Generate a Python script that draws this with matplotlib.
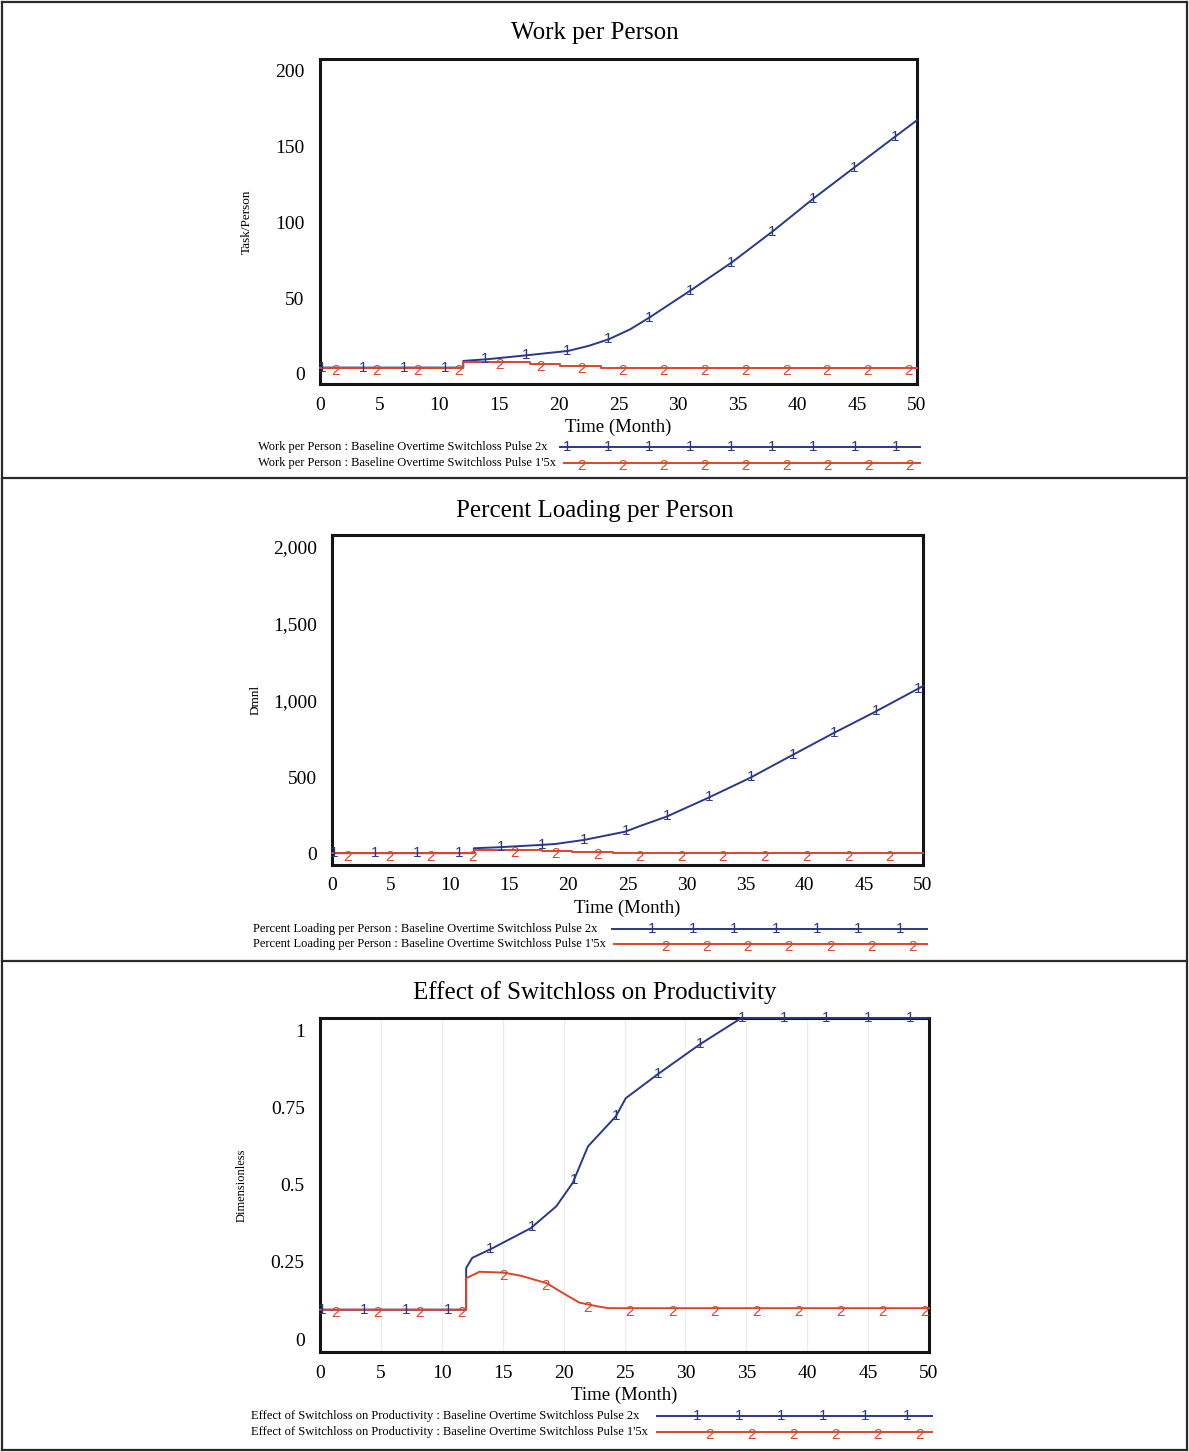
import matplotlib
matplotlib.use("Agg")
import matplotlib.pyplot as plt
import numpy as np
from matplotlib.lines import Line2D

# ---------------- data ----------------
# Work per Person (Task/Person)
t_work_2x = [0, 12, 12, 14, 17.3, 20.8, 22.5, 24.2, 26, 27.6, 31, 34.5, 38, 41.3, 44.8, 48.2, 50]
work_2x = [4.2, 4.2, 8.6, 9.7, 12.3, 15.2, 18.5, 22.9, 29.5, 37.2, 54.8, 73.5, 94.4, 115.3, 136.2, 156.4, 167]
t_work_15x = [0, 12, 12, 17.6, 17.6, 20.1, 20.1, 23.5, 23.5, 50]
work_15x = [4.2, 4.2, 7.9, 7.9, 6.8, 6.8, 5.3, 5.3, 4.2, 4.2]

# Percent Loading per Person (Dmnl)
t_load_2x = [0, 12, 12, 14.2, 17.7, 18.9, 21.3, 24.8, 26.1, 28.3, 31.75, 35.3, 38.8, 42.3, 45.8, 49.5, 50]
load_2x = [5, 5, 37, 44, 59, 65, 91, 145, 183, 243, 363, 493, 638, 782, 920, 1073, 1094]
t_load_15x = [0, 12, 12, 17.8, 17.8, 20.3, 20.3, 23.8, 23.8, 50]
load_15x = [5, 5, 26, 26, 20, 20, 13, 13, 5, 5]

# Effect of Switchloss on Productivity (Dimensionless)
t_eff_2x = [0, 12, 12, 12.5, 14, 17.3, 19.4, 20.75, 22, 24.3, 25.1, 27.7, 31.2, 34.6, 50]
eff_2x = [0.095, 0.095, 0.23, 0.263, 0.291, 0.359, 0.43, 0.506, 0.624, 0.722, 0.78, 0.857, 0.955, 1.04, 1.04]
t_eff_15x = [0, 12, 12, 13.1, 15.1, 16.5, 18.6, 20.2, 21.3, 22.9, 23.7, 50]
eff_15x = [0.095, 0.095, 0.197, 0.218, 0.215, 0.205, 0.181, 0.143, 0.118, 0.105, 0.1, 0.1]

x_ticks = [0, 5, 10, 15, 20, 25, 30, 35, 40, 45, 50]
work_ticks = [0, 50, 100, 150, 200]
work_tick_labels = ["0", "50", "100", "150", "200"]
load_ticks = [0, 500, 1000, 1500, 2000]
load_tick_labels = ["0", "500", "1,000", "1,500", "2,000"]
eff_ticks = [0, 0.25, 0.5, 0.75, 1]
eff_tick_labels = ["0", "0.25", "0.5", "0.75", "1"]

titles = ["Work per Person", "Percent Loading per Person", "Effect of Switchloss on Productivity"]
y_units = ["Task/Person", "Dmnl", "Dimensionless"]
run_2x = "Baseline Overtime Switchloss Pulse 2x"
run_15x = "Baseline Overtime Switchloss Pulse 1'5x"

# ---------------- styling ----------------
W, H = 1189, 1452
BLUE = "#2a3889"
RED = "#d9462a"
SERIF = "Liberation Serif"
SANS = "Liberation Sans"
DIGIT_SIZE = 11

fig = plt.figure(figsize=(W / 100, H / 100), dpi=100)
renderer = fig.canvas.get_renderer()


def rect(x0, y0, x1, y1):
    return [x0 / W, 1 - y1 / H, (x1 - x0) / W, (y1 - y0) / H]


def fx(x):
    return x / W


def fy(y):
    return 1 - y / H


def digit_marks(ax, t, v, start, step, ch, color, dy):
    ts = np.arange(start, 50.0001, step)
    vs = np.interp(ts, t, v)
    for a, b in zip(ts, vs):
        ax.annotate(ch, (a, b), xytext=(0, dy), textcoords="offset points",
                    ha="center", va="center", color=color, fontsize=DIGIT_SIZE,
                    family=SANS, annotation_clip=False, zorder=5)


panels = [
    dict(data=(t_work_2x, work_2x, t_work_15x, work_15x), ticks=work_ticks,
         labels=work_tick_labels, ylim=(-6.6, 207.3), box=(320, 59, 917, 384),
         title_y=33, ylab_x=247, ylab_size=9.5, step=3.43, leg_y=(447, 463),
         leg_text_x=258, leg_x=(560, 920), leg_start=(567, 581), leg_step=41.1,
         grid=False),
    dict(data=(t_load_2x, load_2x, t_load_15x, load_15x), ticks=load_ticks,
         labels=load_tick_labels, ylim=(-72, 2078), box=(332, 535, 923, 865),
         title_y=511, ylab_x=256, ylab_size=9.5, step=3.53, leg_y=(929, 944),
         leg_text_x=253, leg_x=(612, 927), leg_start=(652, 665), leg_step=41.3,
         grid=False),
    dict(data=(t_eff_2x, eff_2x, t_eff_15x, eff_15x), ticks=eff_ticks,
         labels=eff_tick_labels, ylim=(-0.042, 1.04), box=(320, 1018, 929, 1352),
         title_y=993, ylab_x=242, ylab_size=9, step=3.45, leg_y=(1416, 1432),
         leg_text_x=251, leg_x=(657, 932), leg_start=(697, 710), leg_step=42.0,
         grid=True),
]

for i, p in enumerate(panels):
    x0, y0, x1, y1 = p["box"]
    ax = fig.add_axes(rect(x0, y0, x1, y1))
    t_a, v_a, t_b, v_b = p["data"]
    ax.plot(t_a, v_a, color=BLUE, lw=1.4, zorder=3, clip_on=False)
    ax.plot(t_b, v_b, color=RED, lw=1.4, zorder=3, clip_on=False)
    digit_marks(ax, t_a, v_a, 0.15, p["step"], "1", BLUE, 0)
    digit_marks(ax, t_b, v_b, 1.3, p["step"], "2", RED, -2.5)

    ax.set_xlim(0, 50)
    ax.set_ylim(*p["ylim"])
    ax.set_xticks(x_ticks)
    ax.set_xticklabels([str(v) for v in x_ticks], family=SERIF, fontsize=14)
    ax.set_yticks(p["ticks"])
    ax.set_yticklabels(p["labels"], family=SERIF, fontsize=14)
    ax.tick_params(length=0, pad=9)
    ax.tick_params(axis="y", pad=11)
    for s in ax.spines.values():
        s.set_linewidth(2.2)
        s.set_color("#151515")
        s.set_zorder(2.5)
    if p["grid"]:
        ax.grid(axis="x", color="#ededed", lw=0.9)
        ax.set_axisbelow(True)
    ax.set_xlabel("Time (Month)", family=SERIF, fontsize=13.5, labelpad=4)

    # title and unit label
    fig.text(0.5, fy(p["title_y"]), titles[i], ha="center", va="center",
             family=SERIF, fontsize=18)
    fig.text(fx(p["ylab_x"]), fy((y0 + y1) / 2), y_units[i], rotation=90,
             ha="center", va="center", family=SERIF, fontsize=p["ylab_size"])

    # run legend underneath
    lx0, lx1 = p["leg_x"]
    for row, (run, color, ch, start) in enumerate(
            [(run_2x, BLUE, "1", p["leg_start"][0]), (run_15x, RED, "2", p["leg_start"][1])]):
        yy = p["leg_y"][row]
        txt = fig.text(fx(p["leg_text_x"]), fy(yy), f"{titles[i]} : {run}", ha="left",
                       va="center", family=SERIF, fontsize=9.0)
        text_end = txt.get_window_extent(renderer).x1
        line_start = max(lx0, text_end + 8)
        fig.add_artist(Line2D([fx(line_start), fx(lx1)], [fy(yy), fy(yy)], color=color,
                              lw=1.4, transform=fig.transFigure))
        xm = start
        while xm <= lx1 - 4:
            if xm > line_start + 4:
                fig.text(fx(xm), fy(yy + (3 if ch == "2" else 0)), ch, ha="center",
                         va="center", color=color, fontsize=DIGIT_SIZE, family=SANS)
            xm += p["leg_step"]

# outer frame and panel separators
frame_color = "#2a2a2a"
for (xa, ya, xb, yb) in [(2, 2, 1187, 2), (2, 1450, 1187, 1450), (2, 2, 2, 1450),
                         (1187, 2, 1187, 1450), (2, 478, 1187, 478), (2, 961, 1187, 961)]:
    fig.add_artist(Line2D([fx(xa), fx(xb)], [fy(ya), fy(yb)], color=frame_color,
                          lw=1.6, transform=fig.transFigure))

fig.savefig("out.png", dpi=100, facecolor="white")
